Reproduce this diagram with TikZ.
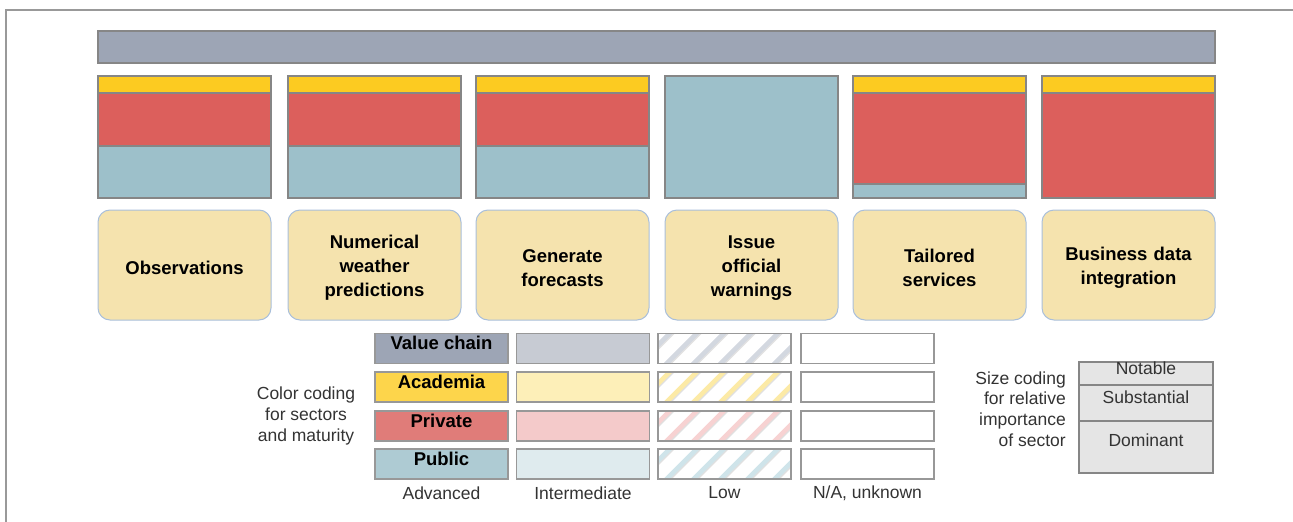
\documentclass[tikz,border=0pt]{standalone}
\usepackage{fontspec}
\setmainfont{Liberation Sans}
\definecolor{vcA}{HTML}{9DA5B5}
\definecolor{acA}{HTML}{FDD54B}
\definecolor{prA}{HTML}{E07C79}
\definecolor{puA}{HTML}{AECBD3}
\definecolor{vcI}{HTML}{C7CBD3}
\definecolor{acI}{HTML}{FDEFB8}
\definecolor{prI}{HTML}{F4CACA}
\definecolor{puI}{HTML}{DFEBEE}
\definecolor{vcL}{HTML}{D3D8E0}
\definecolor{acL}{HTML}{FCEAA6}
\definecolor{prL}{HTML}{F7D2D2}
\definecolor{puL}{HTML}{CFE4EA}
\definecolor{yel}{HTML}{FCCB21}
\definecolor{red}{HTML}{DC5F5C}
\definecolor{blu}{HTML}{9DC0CA}
\definecolor{edge}{HTML}{868686}
\definecolor{boxfill}{HTML}{F5E3AE}
\definecolor{boxedge}{HTML}{A9BFDB}
\definecolor{txt}{HTML}{333333}
\begin{document}
\begin{tikzpicture}[x=1pt,y=-1pt,
  seg/.style={draw=edge,line width=2.4pt},
  procbox/.style={draw=boxedge,fill=boxfill,line width=1pt,rounded corners=12pt,
    minimum width=173pt,minimum height=110pt,inner sep=0pt},
  proctxt/.style={inner sep=0pt,text width=165pt,align=center,
    font=\bfseries\fontsize{18.5}{24}\selectfont},
  cell/.style={draw=edge!85,line width=1.6pt,minimum width=133pt,minimum height=30pt,inner sep=0pt},
  celltxt/.style={font=\bfseries\fontsize{18.5}{20}\selectfont,inner sep=0pt},
  legtxt/.style={font=\fontsize{17.5}{20.7}\selectfont,text=txt,inner sep=0pt},
  sizecell/.style={draw=edge,line width=2pt,fill=black!10,minimum width=134pt,inner sep=0pt}]
\useasboundingbox (0,0) rectangle (1293,522);
% frame
\draw[black!40,line width=1.5pt] (6,522) -- (6,10) -- (1293,10);
% value chain bar
\draw[seg,fill=vcA] (98,31) rectangle (1215,63);
% stacked sector bars
\newcommand\segrect[4]{\draw[seg,fill=#4] (#1,#2) rectangle ({#1+173},#3);}
\foreach \x in {98,288,476}{
  \segrect{\x}{76}{93}{yel}
  \segrect{\x}{93}{146}{red}
  \segrect{\x}{146}{198}{blu}
}
\segrect{665}{76}{198}{blu}
\segrect{853}{76}{93}{yel}
\segrect{853}{93}{184}{red}
\segrect{853}{184}{198}{blu}
\segrect{1042}{76}{93}{yel}
\segrect{1042}{93}{198}{red}
% process boxes
\foreach \n/\cx in {1/184.5,2/374.5,3/562.5,4/751.5,5/939.5,6/1128.5}
  \node[procbox] (p\n) at (\cx,265) {};
\node[proctxt] (t1) at (184.5,268) {Observations};
\node[proctxt] (t2) at (374.5,268) {Numerical\\weather\\predictions};
\node[proctxt] (t3) at (562.5,268) {Generate\\forecasts};
\node[proctxt] (t4) at (751.5,268) {Issue\\official\\warnings};
\node[proctxt] (t5) at (939.5,268) {Tailored\\services};
\node[proctxt] (t6) at (1128.5,268) {Business data\\integration};
% legend: colour coding
\foreach \r/\y/\a/\i/\l/\lab in {vc/348.5/vcA/vcI/vcL/Value chain,ac/387/acA/acI/acL/Academia,pr/426/prA/prI/prL/Private,pu/464/puA/puI/puL/Public}{
  \node[cell,fill=\a] (\r a) at (441.5,\y) {};
  \node[celltxt,anchor=north] (\r t) at (441.5,{\y-12.5}) {\lab};
  \node[cell,fill=\i] (\r i) at (583,\y) {};
  \begin{scope}
    \clip (657.5,{\y-15}) rectangle (791.5,{\y+15});
    \foreach \k in {0,...,7}{
      \draw[\l,line width=5pt] ({635+\k*27},{\y+20}) -- ({675+\k*27},{\y-20});
      \draw[black!12,line width=1.2pt] ({639+\k*27},{\y+20}) -- ({679+\k*27},{\y-20});
    }
  \end{scope}
  \node[cell] (\r l) at (724.5,\y) {};
  \node[cell] (\r n) at (867.5,\y) {};
}
\node[legtxt] (lA) at (441.5,493) {Advanced};
\node[legtxt] (lI) at (583,493) {Intermediate};
\node[legtxt] (lL) at (724.5,493) {Low};
\node[legtxt] (lN) at (867.5,493) {N/A, unknown};
\node[legtxt,align=center] (cc) at (306,416) {Color coding\\for sectors\\and maturity};
% legend: size coding
\node[legtxt,align=right,anchor=east] (sc) at (1066,409) {Size coding\\for relative\\importance\\of sector};
\node[sizecell,minimum height=23pt,anchor=north] (s1) at (1146,361) {};
\node[legtxt] (s1t) at (1146,368) {Notable};
\node[sizecell,minimum height=36pt,anchor=north] (s2) at (1146,384) {};
\node[legtxt] (s2t) at (1146,397) {Substantial};
\node[sizecell,minimum height=52pt,anchor=north] (s3) at (1146,420) {};
\node[legtxt] (s3t) at (1146,440) {Dominant};
\end{tikzpicture}
\end{document}
